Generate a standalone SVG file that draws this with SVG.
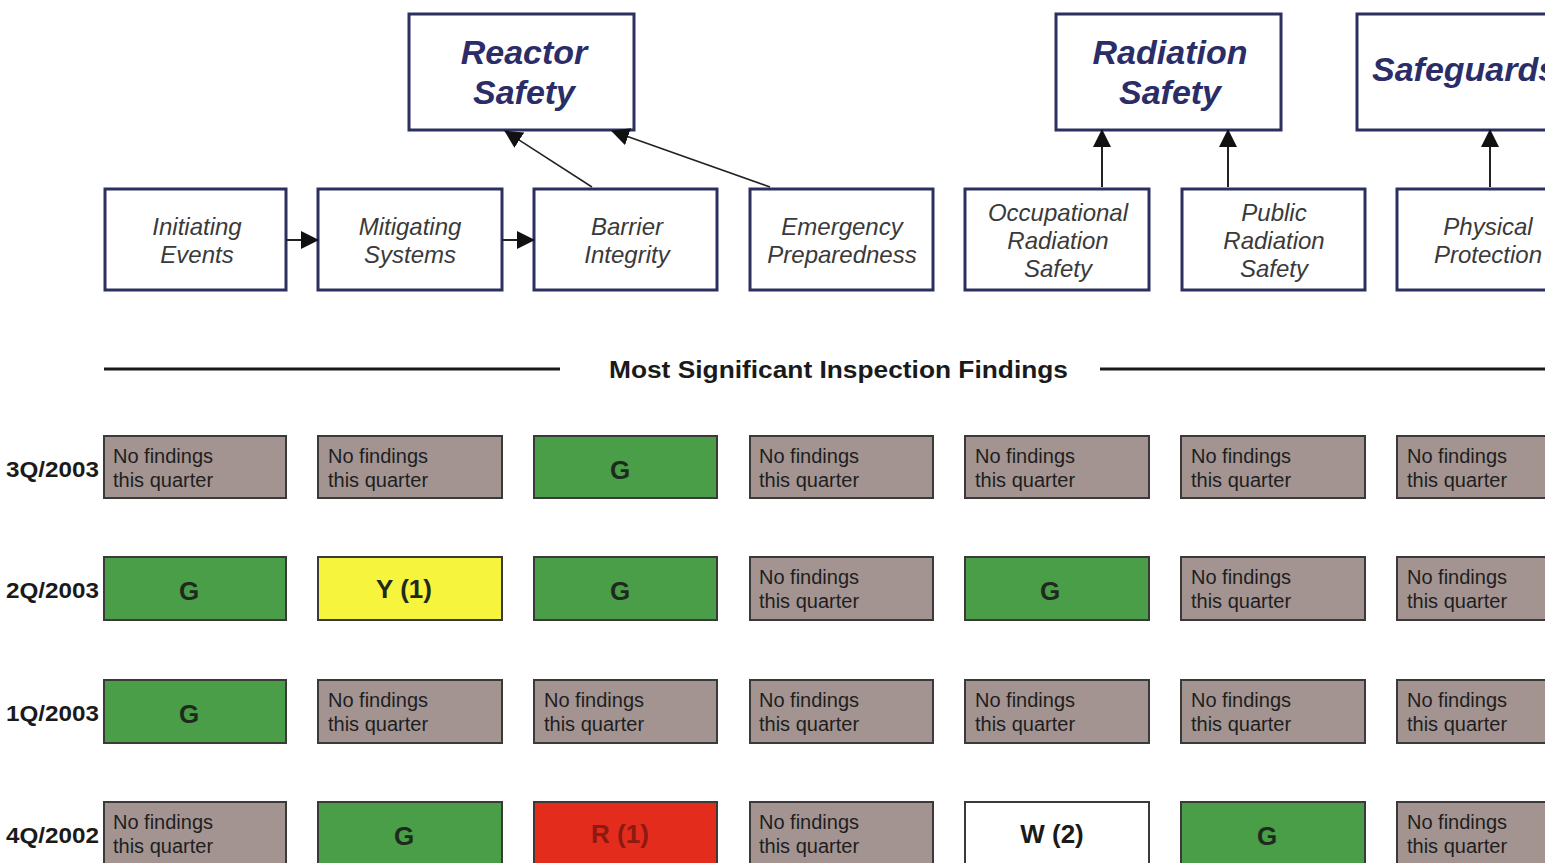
<svg xmlns="http://www.w3.org/2000/svg" width="1545" height="863" viewBox="0 0 1545 863">
<defs>
<marker id="ah" markerWidth="10" markerHeight="10" refX="9" refY="5" orient="auto" markerUnits="userSpaceOnUse" viewBox="0 0 10 10">
<path d="M0,0 L10,5 L0,10 Z" fill="#111"/>
</marker>
<marker id="ahb" markerWidth="18" markerHeight="18" refX="17" refY="9" orient="auto" markerUnits="userSpaceOnUse" viewBox="0 0 18 18">
<path d="M0,0 L18,9 L0,18 Z" fill="#111"/>
</marker>
</defs>
<style>
.top{fill:#fff;stroke:#2c3060;stroke-width:3}
.sub{fill:#fff;stroke:#2c3060;stroke-width:3}
.tt{font-family:"Liberation Sans",Arial,sans-serif;font-weight:bold;font-style:italic;font-size:34px;fill:#2b2d68;text-anchor:middle}
.st{font-family:"Liberation Sans",Arial,sans-serif;font-style:italic;font-size:24px;fill:#3a3a3a;text-anchor:middle}
.cell{stroke:#3a3a3a;stroke-width:2}
.gray{fill:#a39492}
.green{fill:#4a9e48}
.yellow{fill:#f6f43c}
.red{fill:#e32c1c}
.white{fill:#fff}
.nf{font-family:"Liberation Sans",Arial,sans-serif;font-size:20px;fill:#1e1e1e}
.big{font-family:"Liberation Sans",Arial,sans-serif;font-weight:bold;font-size:26px;fill:#1f2a1f;text-anchor:middle}
.rl{font-family:"Liberation Sans",Arial,sans-serif;font-weight:bold;font-size:22px;fill:#1a1a1a}
.hd{font-family:"Liberation Sans",Arial,sans-serif;font-weight:bold;font-size:23px;fill:#1a1a1a}
.conn{stroke:#222;stroke-width:2;fill:none}
</style>
<rect width="1545" height="863" fill="#fff"/>

<g id="reactor-safety"><rect class="top" x="409" y="14" width="225" height="116"/><text class="tt" x="524" y="64">Reactor</text><text class="tt" x="524" y="104">Safety</text></g>
<g id="radiation-safety"><rect class="top" x="1056" y="14" width="225" height="116"/><text class="tt" x="1170" y="64">Radiation</text><text class="tt" x="1170" y="104">Safety</text></g>
<g id="safeguards"><rect class="top" x="1357" y="14" width="200" height="116"/><text class="tt" x="1372" y="81" style="text-anchor:start">Safeguards</text></g>

<g id="initiating-events"><rect class="sub" x="105" y="189" width="181" height="101"/><text class="st" x="197" y="235">Initiating</text><text class="st" x="197" y="263">Events</text></g>
<g id="mitigating-systems"><rect class="sub" x="318" y="189" width="184" height="101"/><text class="st" x="410" y="235">Mitigating</text><text class="st" x="410" y="263">Systems</text></g>
<g id="barrier-integrity"><rect class="sub" x="534" y="189" width="183" height="101"/><text class="st" x="627" y="235">Barrier</text><text class="st" x="627" y="263">Integrity</text></g>
<g id="emergency-preparedness"><rect class="sub" x="750" y="189" width="183" height="101"/><text class="st" x="842" y="235">Emergency</text><text class="st" x="842" y="263">Preparedness</text></g>
<g id="occupational-radiation-safety"><rect class="sub" x="965" y="189" width="184" height="101"/><text class="st" x="1058" y="221">Occupational</text><text class="st" x="1058" y="249">Radiation</text><text class="st" x="1058" y="277">Safety</text></g>
<g id="public-radiation-safety"><rect class="sub" x="1182" y="189" width="183" height="101"/><text class="st" x="1274" y="221">Public</text><text class="st" x="1274" y="249">Radiation</text><text class="st" x="1274" y="277">Safety</text></g>
<g id="physical-protection"><rect class="sub" x="1397" y="189" width="160" height="101"/><text class="st" x="1488" y="235">Physical</text><text class="st" x="1488" y="263">Protection</text></g>

<g id="connectors">
<line class="conn" x1="286" y1="240" x2="318" y2="240" marker-end="url(#ahb)"/>
<line class="conn" x1="502" y1="240" x2="534" y2="240" marker-end="url(#ahb)"/>
<line class="conn" x1="592" y1="187" x2="505" y2="131" marker-end="url(#ahb)" style="stroke-width:1.5"/>
<line class="conn" x1="770" y1="187" x2="612" y2="131" marker-end="url(#ahb)" style="stroke-width:1.5"/>
<line class="conn" x1="1102" y1="187" x2="1102" y2="130" marker-end="url(#ahb)"/>
<line class="conn" x1="1228" y1="187" x2="1228" y2="130" marker-end="url(#ahb)"/>
<line class="conn" x1="1490" y1="187" x2="1490" y2="130" marker-end="url(#ahb)"/>
</g>

<g id="heading">
<line x1="104" y1="369" x2="560" y2="369" stroke="#1a1a1a" stroke-width="3"/>
<line x1="1100" y1="369" x2="1545" y2="369" stroke="#1a1a1a" stroke-width="3"/>
<text class="hd" x="609" y="378" textLength="459" lengthAdjust="spacingAndGlyphs">Most Significant Inspection Findings</text>
</g>

<g id="row-labels">
<text class="rl" x="6" y="477" textLength="93" lengthAdjust="spacingAndGlyphs">3Q/2003</text>
<text class="rl" x="6" y="598" textLength="93" lengthAdjust="spacingAndGlyphs">2Q/2003</text>
<text class="rl" x="6" y="721" textLength="93" lengthAdjust="spacingAndGlyphs">1Q/2003</text>
<text class="rl" x="6" y="843" textLength="93" lengthAdjust="spacingAndGlyphs">4Q/2002</text>
</g>

<!-- Row 3Q/2003 -->
<g id="r3q-c1"><rect class="cell gray" x="104" y="436" width="182" height="62"/><text class="nf" x="113" y="463">No findings</text><text class="nf" x="113" y="487">this quarter</text></g>
<g id="r3q-c2"><rect class="cell gray" x="318" y="436" width="184" height="62"/><text class="nf" x="328" y="463">No findings</text><text class="nf" x="328" y="487">this quarter</text></g>
<g id="r3q-c3"><rect class="cell green" x="534" y="436" width="183" height="62"/><text class="big" x="620" y="479">G</text></g>
<g id="r3q-c4"><rect class="cell gray" x="750" y="436" width="183" height="62"/><text class="nf" x="759" y="463">No findings</text><text class="nf" x="759" y="487">this quarter</text></g>
<g id="r3q-c5"><rect class="cell gray" x="965" y="436" width="184" height="62"/><text class="nf" x="975" y="463">No findings</text><text class="nf" x="975" y="487">this quarter</text></g>
<g id="r3q-c6"><rect class="cell gray" x="1181" y="436" width="184" height="62"/><text class="nf" x="1191" y="463">No findings</text><text class="nf" x="1191" y="487">this quarter</text></g>
<g id="r3q-c7"><rect class="cell gray" x="1397" y="436" width="160" height="62"/><text class="nf" x="1407" y="463">No findings</text><text class="nf" x="1407" y="487">this quarter</text></g>

<!-- Row 2Q/2003 -->
<g id="r2q-c1"><rect class="cell green" x="104" y="557" width="182" height="63"/><text class="big" x="189" y="600">G</text></g>
<g id="r2q-c2"><rect class="cell yellow" x="318" y="557" width="184" height="63"/><text class="big" x="404" y="598">Y (1)</text></g>
<g id="r2q-c3"><rect class="cell green" x="534" y="557" width="183" height="63"/><text class="big" x="620" y="600">G</text></g>
<g id="r2q-c4"><rect class="cell gray" x="750" y="557" width="183" height="63"/><text class="nf" x="759" y="584">No findings</text><text class="nf" x="759" y="608">this quarter</text></g>
<g id="r2q-c5"><rect class="cell green" x="965" y="557" width="184" height="63"/><text class="big" x="1050" y="600">G</text></g>
<g id="r2q-c6"><rect class="cell gray" x="1181" y="557" width="184" height="63"/><text class="nf" x="1191" y="584">No findings</text><text class="nf" x="1191" y="608">this quarter</text></g>
<g id="r2q-c7"><rect class="cell gray" x="1397" y="557" width="160" height="63"/><text class="nf" x="1407" y="584">No findings</text><text class="nf" x="1407" y="608">this quarter</text></g>

<!-- Row 1Q/2003 -->
<g id="r1q-c1"><rect class="cell green" x="104" y="680" width="182" height="63"/><text class="big" x="189" y="723">G</text></g>
<g id="r1q-c2"><rect class="cell gray" x="318" y="680" width="184" height="63"/><text class="nf" x="328" y="707">No findings</text><text class="nf" x="328" y="731">this quarter</text></g>
<g id="r1q-c3"><rect class="cell gray" x="534" y="680" width="183" height="63"/><text class="nf" x="544" y="707">No findings</text><text class="nf" x="544" y="731">this quarter</text></g>
<g id="r1q-c4"><rect class="cell gray" x="750" y="680" width="183" height="63"/><text class="nf" x="759" y="707">No findings</text><text class="nf" x="759" y="731">this quarter</text></g>
<g id="r1q-c5"><rect class="cell gray" x="965" y="680" width="184" height="63"/><text class="nf" x="975" y="707">No findings</text><text class="nf" x="975" y="731">this quarter</text></g>
<g id="r1q-c6"><rect class="cell gray" x="1181" y="680" width="184" height="63"/><text class="nf" x="1191" y="707">No findings</text><text class="nf" x="1191" y="731">this quarter</text></g>
<g id="r1q-c7"><rect class="cell gray" x="1397" y="680" width="160" height="63"/><text class="nf" x="1407" y="707">No findings</text><text class="nf" x="1407" y="731">this quarter</text></g>

<!-- Row 4Q/2002 -->
<g id="r4q-c1"><rect class="cell gray" x="104" y="802" width="182" height="70"/><text class="nf" x="113" y="829">No findings</text><text class="nf" x="113" y="853">this quarter</text></g>
<g id="r4q-c2"><rect class="cell green" x="318" y="802" width="184" height="70"/><text class="big" x="404" y="845">G</text></g>
<g id="r4q-c3"><rect class="cell red" x="534" y="802" width="183" height="70"/><text class="big" x="620" y="843" style="fill:#8a1a12">R (1)</text></g>
<g id="r4q-c4"><rect class="cell gray" x="750" y="802" width="183" height="70"/><text class="nf" x="759" y="829">No findings</text><text class="nf" x="759" y="853">this quarter</text></g>
<g id="r4q-c5"><rect class="cell white" x="965" y="802" width="184" height="70"/><text class="big" x="1052" y="843" style="fill:#1a1a1a">W (2)</text></g>
<g id="r4q-c6"><rect class="cell green" x="1181" y="802" width="184" height="70"/><text class="big" x="1267" y="845">G</text></g>
<g id="r4q-c7"><rect class="cell gray" x="1397" y="802" width="160" height="70"/><text class="nf" x="1407" y="829">No findings</text><text class="nf" x="1407" y="853">this quarter</text></g>
</svg>
